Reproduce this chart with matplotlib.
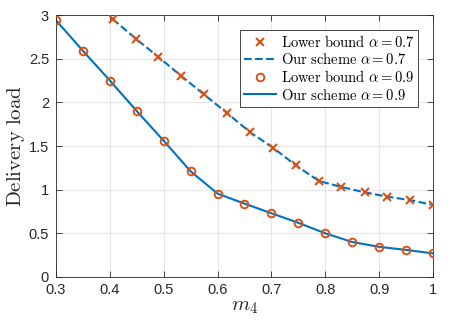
import matplotlib
matplotlib.use("Agg")
from matplotlib import pyplot
import numpy as np

pyplot.rcParams["mathtext.fontset"] = "cm"
pyplot.rcParams["font.family"] = "Liberation Sans"

# alpha = 0.7
m4_a07 = [0.405, 0.448, 0.490, 0.533, 0.575, 0.618, 0.660, 0.703,
          0.745, 0.788, 0.830, 0.873, 0.915, 0.958, 1.0]
load_a07 = [2.955, 2.73, 2.52, 2.30, 2.09, 1.875, 1.66, 1.48,
            1.28, 1.10, 1.03, 0.97, 0.92, 0.88, 0.825]

# alpha = 0.9
m4_a09 = [0.3, 0.35, 0.4, 0.45, 0.5, 0.55, 0.6, 0.65,
          0.7, 0.75, 0.8, 0.85, 0.9, 0.95, 1.0]
load_a09 = [2.94, 2.59, 2.25, 1.90, 1.56, 1.21, 0.955, 0.84,
            0.73, 0.62, 0.50, 0.40, 0.345, 0.31, 0.27]

blue = "#0072BD"
orange = "#D95319"
dark = "#262626"

fig = pyplot.figure(figsize=(4.5, 3.27), dpi=100)
ax = fig.add_axes([0.1244, 0.153, 0.8378, 0.801])

ax.plot(m4_a07, load_a07, linestyle="none", marker="x", color=orange,
        markersize=6, markeredgewidth=1.5, label=r"$\mathrm{Lower\ bound}\ \alpha = 0.7$", zorder=3)
ax.plot(m4_a07, load_a07, "--", color=blue, linewidth=1.5,
        label=r"$\mathrm{Our\ scheme}\ \alpha = 0.7$", zorder=2)
ax.plot(m4_a09, load_a09, linestyle="none", marker="o", color=orange, fillstyle="none",
        markersize=5.5, markeredgewidth=1.4, label=r"$\mathrm{Lower\ bound}\ \alpha = 0.9$", zorder=3)
ax.plot(m4_a09, load_a09, "-", color=blue, linewidth=1.5,
        label=r"$\mathrm{Our\ scheme}\ \alpha = 0.9$", zorder=2)

ax.set_xlim(0.3, 1)
ax.set_ylim(0, 3)
ax.set_xticks(np.arange(0.3, 1.01, 0.1))
ax.set_xticklabels(["0.3", "0.4", "0.5", "0.6", "0.7", "0.8", "0.9", "1"])
ax.set_yticks(np.arange(0, 3.01, 0.5))
ax.set_yticklabels(["0", "0.5", "1", "1.5", "2", "2.5", "3"])
ax.tick_params(direction="in", top=True, right=True, labelsize=10.5,
               colors=dark, length=4, width=0.6)
ax.tick_params(axis="x", pad=4.5)
ax.tick_params(axis="y", pad=5)
for s in ax.spines.values():
    s.set_color(dark)
    s.set_linewidth(0.6)
ax.grid(True, color="#e6e6e6", linewidth=0.8)
ax.set_axisbelow(True)

ax.set_xlabel(r"$m_4$", fontsize=15, color=dark, labelpad=0)
ax.set_ylabel(r"$\mathrm{Delivery\ load}$", fontsize=15, color=dark, labelpad=1)

leg = ax.legend(loc="upper right", fontsize=10.5, fancybox=False, framealpha=1,
                edgecolor=dark, borderpad=0.3, labelspacing=0.15, handlelength=2.2,
                handletextpad=0.3, borderaxespad=1.0)
leg.get_frame().set_linewidth(0.6)

pyplot.savefig("out.png", dpi=100)
